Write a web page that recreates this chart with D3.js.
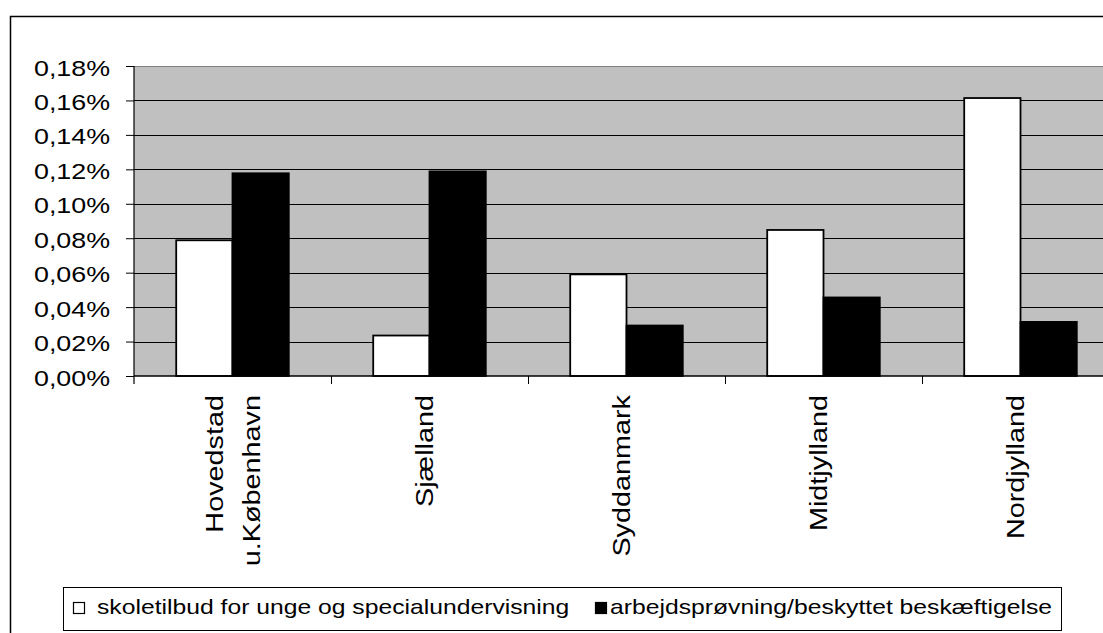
<!DOCTYPE html>
<html>
<head>
<meta charset="utf-8">
<script src="https://cdn.jsdelivr.net/npm/d3@7/dist/d3.min.js"></script>
<style>
  html, body { margin: 0; padding: 0; background: #fff; overflow: hidden; }
  svg { display: block; }
  text { font-family: "Liberation Sans", Arial, sans-serif; fill: #000; }
</style>
</head>
<body>
<svg id="chart" width="1103" height="633"></svg>
<script>
// ---- data ----
const categories = ["Hovedstad\nu.København", "Sjælland", "Syddanmark", "Midtjylland", "Nordjylland"];
const seriesNames = ["skoletilbud for unge og specialundervisning", "arbejdsprøvning/beskyttet beskæftigelse"];
const skoletilbud = [0.0788, 0.0235, 0.0590, 0.0848, 0.1614];
const arbejdsproevning = [0.1177, 0.1188, 0.0293, 0.0456, 0.0314];
const yTicks = [0, 0.02, 0.04, 0.06, 0.08, 0.10, 0.12, 0.14, 0.16, 0.18];
const seriesColors = ["#ffffff", "#000000"];

// ---- layout ----
const svg = d3.select("#chart");
const plot = { left: 134, top: 66, bottom: 376, right: 1119 };
const stretch = 1.22;     // horizontal glyph stretch of the original rendering
const legendStretch = 1.235;
const catStretch = 1.2;

const locale = d3.formatLocale({ decimal: ",", thousands: ".", grouping: [3], currency: ["", " kr."] });
const fmt = v => locale.format(".2f")(v) + "%";

const x = d3.scaleBand().domain(categories).range([plot.left, plot.right]).paddingInner(0).paddingOuter(0);
const x1 = d3.scaleBand().domain(seriesNames).range([0, x.bandwidth()]).paddingInner(0).paddingOuter(0.75);
const y = d3.scaleLinear().domain([0, 0.18]).range([plot.bottom, plot.top]);

// outer chart border
svg.append("rect")
  .attr("x", 10.5).attr("y", 16.5).attr("width", 1200).attr("height", 700)
  .attr("fill", "#fff").attr("stroke", "#000").attr("stroke-width", 1.5);

// plot background
svg.append("rect")
  .attr("x", plot.left).attr("y", plot.top)
  .attr("width", plot.right - plot.left).attr("height", plot.bottom - plot.top)
  .attr("fill", "#c0c0c0");

// gridlines
svg.append("g").selectAll("line")
  .data(yTicks.filter(d => d > 0))
  .join("line")
  .attr("x1", plot.left).attr("x2", plot.right)
  .attr("y1", d => Math.round(y(d)) + 0.5).attr("y2", d => Math.round(y(d)) + 0.5)
  .attr("stroke", d => d === 0.18 ? "#808080" : "#000")
  .attr("stroke-width", 1);

// bars
const series = [skoletilbud, arbejdsproevning];
const groups = svg.append("g").selectAll("g")
  .data(categories)
  .join("g")
  .attr("transform", d => `translate(${x(d)},0)`);

groups.selectAll("rect")
  .data((c, i) => seriesNames.map((s, k) => ({ s, k, v: series[k][i] })))
  .join("rect")
  .attr("x", d => x1(d.s))
  .attr("width", x1.bandwidth())
  .attr("y", d => y(d.v))
  .attr("height", d => y(0) - y(d.v))
  .attr("fill", d => seriesColors[d.k])
  .attr("stroke", "#000")
  .attr("stroke-width", 1.8);

// y axis
const yAxis = d3.axisLeft(y).tickValues(yTicks).tickSize(8).tickFormat(fmt);
const gy = svg.append("g").attr("transform", `translate(${plot.left},0)`).call(yAxis);
gy.attr("font-family", null).attr("font-size", null);
gy.select(".domain").attr("stroke", "#000").attr("stroke-width", 1.2).attr("d", `M0,${plot.top}V${plot.bottom + 8}`);
gy.selectAll(".tick line").attr("stroke", "#000");
gy.selectAll(".tick text")
  .attr("x", -24 / stretch)
  .attr("dy", "0.41em")
  .attr("transform", `scale(${stretch},1)`)
  .style("font-size", "22px")
  .style("font-family", "'Liberation Sans', Arial, sans-serif");

// x axis line and ticks at category boundaries
svg.append("line")
  .attr("x1", plot.left).attr("x2", plot.right)
  .attr("y1", plot.bottom).attr("y2", plot.bottom)
  .attr("stroke", "#000").attr("stroke-width", 1.6);
svg.append("g").selectAll("line")
  .data(categories.slice(1))
  .join("line")
  .attr("x1", d => Math.round(x(d)) + 0.5).attr("x2", d => Math.round(x(d)) + 0.5)
  .attr("y1", plot.bottom).attr("y2", plot.bottom + 8)
  .attr("stroke", "#000");

// category labels (rotated)
const labels = svg.append("g").selectAll("g")
  .data(categories)
  .join("g")
  .attr("transform", d => `translate(${x(d) + x.bandwidth() / 2},395) rotate(-90) scale(${catStretch},1)`);
labels.append("text")
  .attr("text-anchor", "end")
  .style("font-size", "24px")
  .each(function (d) {
    const lines = d.split("\n");
    const n = lines.length;
    d3.select(this).selectAll("tspan")
      .data(lines)
      .join("tspan")
      .attr("x", 0)
      .attr("y", (l, i) => n === 1 ? 3 : (i === 0 ? -10 : 28))
      .text(l => l);
  });

// legend
const legend = svg.append("g");
legend.append("rect")
  .attr("x", 63.5).attr("y", 587.5).attr("width", 998).attr("height", 43)
  .attr("fill", "#fff").attr("stroke", "#000").attr("stroke-width", 1);
const legendItems = [
  { name: seriesNames[0], color: seriesColors[0], sx: 73.5, tx: 97 },
  { name: seriesNames[1], color: seriesColors[1], sx: 595.5, tx: 610 }
];
legendItems.forEach(it => {
  legend.append("rect")
    .attr("x", it.sx).attr("y", 602.5).attr("width", 11).attr("height", 11)
    .attr("fill", it.color).attr("stroke", "#000").attr("stroke-width", 1.2);
  legend.append("g")
    .attr("transform", `translate(${it.tx},614) scale(${legendStretch},1)`)
    .append("text")
    .style("font-size", "20px")
    .text(it.name);
});
</script>
</body>
</html>
